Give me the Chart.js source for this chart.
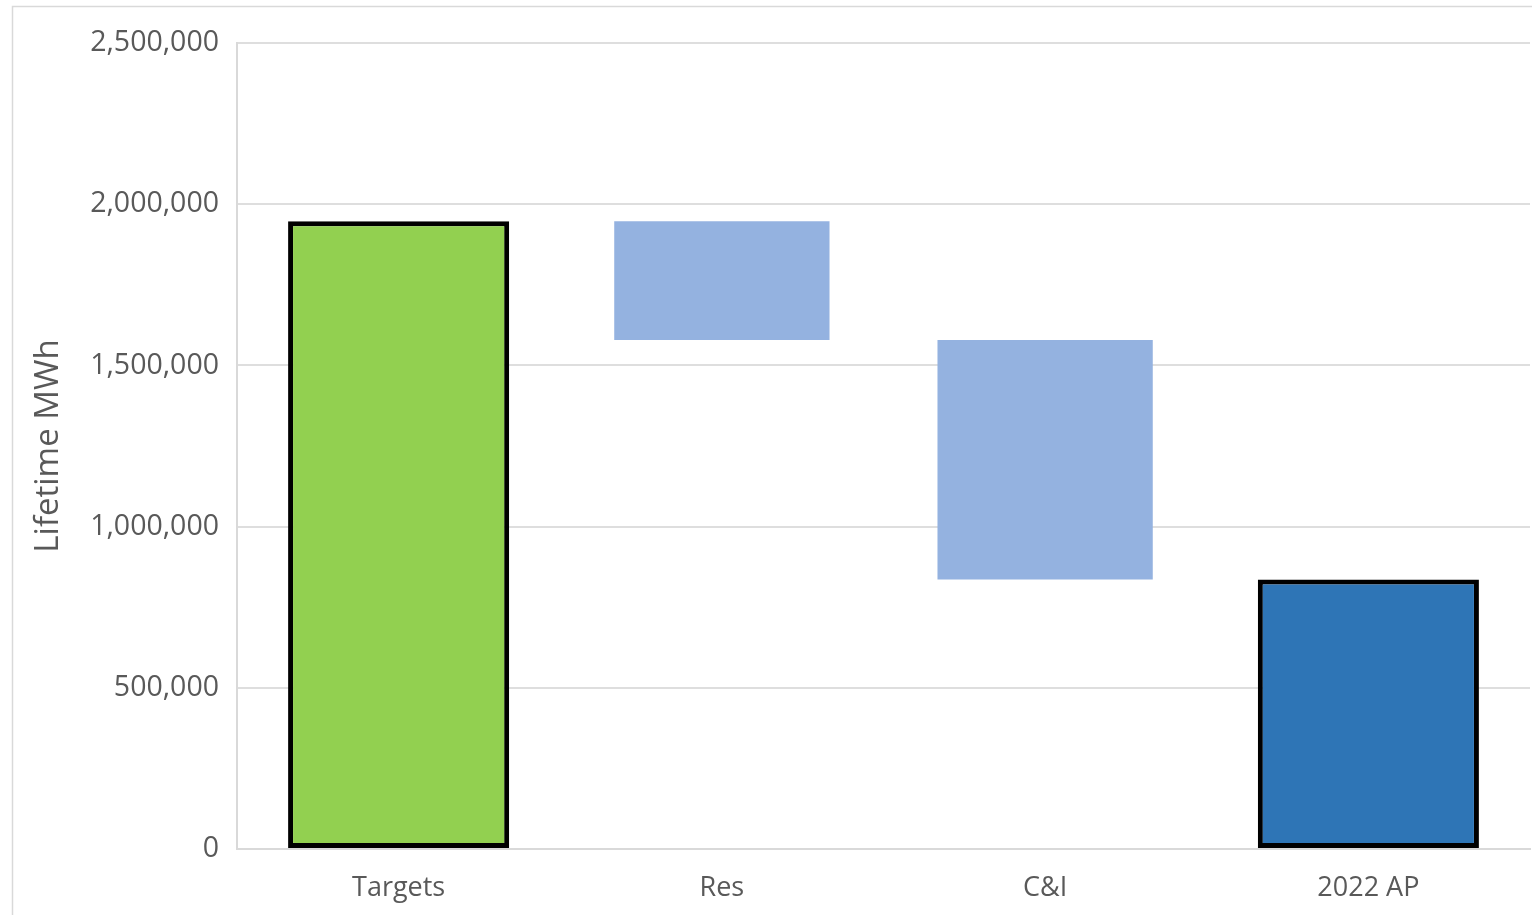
<!DOCTYPE html>
<html>
<head>
<meta charset="utf-8">
<script src="https://cdn.jsdelivr.net/npm/chart.js@4/dist/chart.umd.min.js"></script>
<style>
html,body{margin:0;padding:0;background:#fff;}
#wrap{width:1532px;height:915px;position:relative;}
</style>
</head>
<body>
<div id="wrap"><canvas id="c" width="1532" height="915"></canvas></div>
<script>
const categories = ['Targets', 'Res', 'C&I', '2022 AP'];
const totalValues = [1947000, null, null, 836000];
const stepFrom = [null, 1947000, 1579000, null];
const stepTo = [null, 1579000, 836000, null];
const yTicks = [0, 500000, 1000000, 1500000, 2000000, 2500000];

const totalsData = totalValues.map(v => v === null ? null : [0, v]);
const stepsData = stepFrom.map((v, i) => v === null ? null : [stepTo[i], v]);

const frame = {
  id: 'frame',
  beforeDraw(chart) {
    const ctx = chart.ctx;
    ctx.save();
    ctx.fillStyle = '#fff';
    ctx.fillRect(0, 0, chart.width, chart.height);
    ctx.strokeStyle = '#d9d9d9';
    ctx.lineWidth = 1.5;
    ctx.beginPath();
    ctx.moveTo(12.5, 915);
    ctx.lineTo(12.5, 6.5);
    ctx.lineTo(1532, 6.5);
    ctx.stroke();
    ctx.restore();
  }
};

new Chart(document.getElementById('c'), {
  type: 'bar',
  data: {
    labels: categories,
    datasets: [
      {
        label: 'Totals',
        data: totalsData,
        backgroundColor: ['#92d050', null, null, '#2e75b6'],
        borderColor: '#000000',
        borderWidth: 5,
        borderSkipped: false,
        barPercentage: 0.684,
        categoryPercentage: 1,
        grouped: false
      },
      {
        label: 'Changes',
        data: stepsData,
        backgroundColor: '#94b2e0',
        borderWidth: 0,
        barPercentage: 0.666,
        categoryPercentage: 1,
        grouped: false
      }
    ]
  },
  options: {
    responsive: false,
    animation: false,
    layout: { padding: { left: 0, right: 2, top: 43, bottom: 0 } },
    plugins: { legend: { display: false }, tooltip: { enabled: false } },
    scales: {
      x: {
        grid: { display: false, drawTicks: false },
        border: { color: '#d9d9d9', width: 2 },
        ticks: { color: '#595959', font: { family: 'Open Sans', size: 27 }, padding: 23 },
        afterFit(s) { s.height = 66; }
      },
      y: {
        min: 0, max: 2500000,
        afterBuildTicks(s) { s.ticks = yTicks.map(v => ({ value: v })); },
        grid: { color: '#dedede', lineWidth: 2, drawTicks: false },
        border: { color: '#d9d9d9', width: 2 },
        ticks: {
          color: '#595959', font: { family: 'Open Sans', size: 28.5 }, padding: 18,
          callback: v => v.toLocaleString('en-US')
        },
        title: {
          display: true, text: 'Lifetime MWh', color: '#595959',
          font: { family: 'Open Sans', size: 33 }, padding: { top: 29, bottom: 0 }
        },
        afterFit(s) { s.width = 237; }
      }
    }
  },
  plugins: [frame]
});
</script>
</body>
</html>
